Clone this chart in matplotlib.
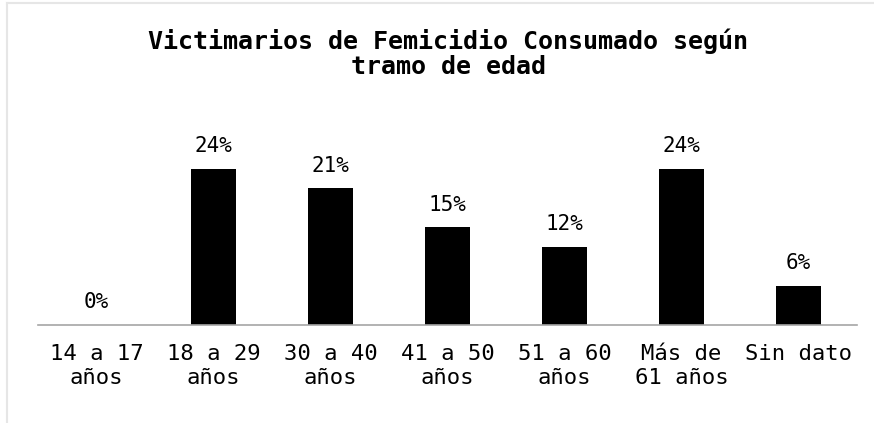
import numpy as np
import matplotlib.pyplot as plt
from matplotlib.lines import Line2D

categorias = ['14 a 17\naños', '18 a 29\naños', '30 a 40\naños', '41 a 50\naños',
              '51 a 60\naños', 'Más de\n61 años', 'Sin dato']
porcentajes = [0, 24, 21, 15, 12, 24, 6]
titulo = 'Victimarios de Femicidio Consumado según\ntramo de edad'

plt.rcParams['font.family'] = ['DejaVu Sans Mono', 'DejaVu Sans']

fig = plt.figure(figsize=(8.74, 4.23), dpi=100)
ax = fig.add_axes([0.0435, 0.2317, 0.937, 0.461])

x = np.arange(len(categorias))
bars = ax.bar(x, porcentajes, width=0.39, color='black')

for xi, v in zip(x, porcentajes):
    ax.annotate('%d%%' % v, (xi, v), xytext=(0, 9), textcoords='offset points',
                ha='center', va='bottom', fontsize=15)

ax.set_xlim(-0.5, len(categorias) - 0.5)
ax.set_ylim(0, 30)
ax.set_xticks(x)
ax.set_xticklabels(categorias, fontsize=16, linespacing=1.2)
ax.tick_params(axis='x', length=0, pad=14)
ax.set_yticks([])
for s in ['top', 'right', 'left']:
    ax.spines[s].set_visible(False)
ax.spines['bottom'].set_color('#a6a6a6')
ax.spines['bottom'].set_linewidth(1.2)

fig.text(0.513, 0.872, titulo, ha='center', va='center', fontsize=18,
         fontweight='bold', linespacing=1.05)

# faint frame on left and top
fig.add_artist(Line2D([0.008, 0.008], [0, 0.993], transform=fig.transFigure,
                      color='#e6e6e6', lw=1.5))
fig.add_artist(Line2D([0.008, 1], [0.993, 0.993], transform=fig.transFigure,
                      color='#e6e6e6', lw=1.5))

fig.savefig('out.png', dpi=100)
